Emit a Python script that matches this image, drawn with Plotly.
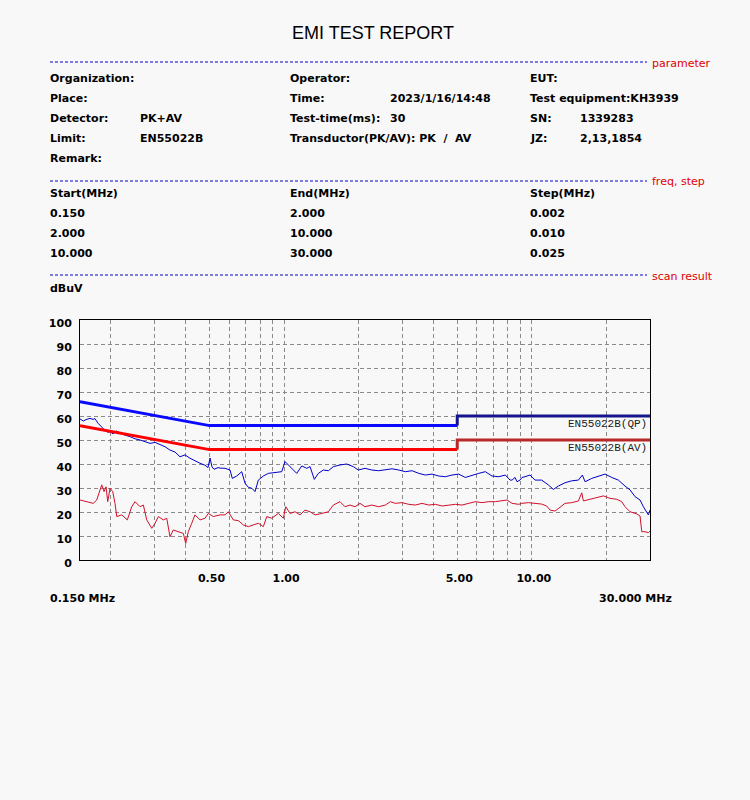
import plotly.graph_objects as go

# ---------------- data ----------------
pk_freq = [0.150, 0.1547, 0.1586, 0.1646, 0.1693, 0.1724, 0.1773, 0.1807, 0.1858, 0.1893,
           0.1947, 0.1983, 0.2039, 0.2097, 0.2176, 0.2280, 0.2388, 0.2502, 0.2621, 0.2746,
           0.2877, 0.3014, 0.3156, 0.3306, 0.3462, 0.3627, 0.3800, 0.3981, 0.4170, 0.4369,
           0.4577, 0.4795, 0.4930, 0.5023, 0.5117, 0.5213, 0.5411, 0.5512, 0.5774, 0.6050,
           0.618, 0.644, 0.6745, 0.6955, 0.7172, 0.7403, 0.7633, 0.7871, 0.8246, 0.8638,
           0.9192, 0.9782, 1.0087, 1.0402, 1.0737, 1.1248, 1.1783, 1.2344, 1.2727, 1.3246,
           1.3749, 1.4404, 1.5089, 1.5805, 1.6819, 1.790, 1.903, 1.994, 2.122, 2.258,
           2.410, 2.563, 2.727, 2.903, 3.086, 3.285, 3.496, 3.717, 3.955, 4.210,
           4.476, 4.763, 5.069, 5.390, 5.737, 6.106, 6.493, 6.907, 7.352, 7.818,
           8.168, 8.322, 8.557, 8.718, 8.961, 9.129, 9.388, 9.835, 10.30, 10.96,
           11.66, 12.22, 12.80, 13.62, 14.50, 15.42, 16.00, 16.41, 17.45, 18.56,
           19.76, 21.02, 22.35, 23.79, 24.92, 26.11, 27.35, 28.21, 29.11, 29.55, 30.0]
pk_level = [58.8, 57.9, 58.5, 59.0, 58.6, 58.9, 57.0, 56.0, 54.5, 54.0,
            53.2, 53.5, 52.5, 53.8, 53.0, 52.0, 51.4, 50.5, 50.0, 49.3,
            48.6, 49.0, 48.0, 47.2, 45.8, 45.0, 43.0, 43.8, 42.4, 41.2,
            40.3, 39.5, 38.5, 42.5, 38.8, 37.8, 38.5, 38.3, 38.2, 37.5,
            34.0, 35.0, 36.8, 32.0, 30.3, 29.9, 28.5, 33.3, 35.0, 36.1,
            36.4, 36.8, 41.0, 39.6, 38.2, 36.1, 39.2, 38.2, 38.9, 33.6,
            36.1, 37.5, 37.2, 38.9, 39.6, 40.0, 38.9, 37.5, 38.2, 37.5,
            37.2, 37.5, 38.0, 37.5, 36.8, 37.2, 36.1, 35.4, 35.8, 35.0,
            34.7, 35.4, 35.8, 34.4, 35.4, 36.1, 36.8, 35.0, 34.7, 35.4,
            33.3, 33.3, 34.4, 32.6, 33.3, 34.4, 34.7, 35.4, 33.3, 33.3,
            31.3, 29.4, 30.8, 32.2, 33.0, 33.3, 35.4, 32.6, 34.0, 35.0,
            35.8, 34.4, 33.3, 30.8, 29.2, 26.4, 25.0, 22.2, 20.1, 18.8, 20.8]

av_freq = [0.150, 0.1596, 0.1698, 0.1752, 0.1807, 0.1836, 0.1876, 0.1911, 0.1941, 0.1983,
           0.2033, 0.2077, 0.2111, 0.2211, 0.2329, 0.2426, 0.2502, 0.2621, 0.2703, 0.2790,
           0.2923, 0.3014, 0.3108, 0.3255, 0.3359, 0.3462, 0.3570, 0.3740, 0.3919, 0.4007,
           0.4105, 0.4237, 0.4369, 0.4577, 0.4795, 0.4944, 0.5180, 0.5512, 0.5774, 0.5955,
           0.6239, 0.6536, 0.6847, 0.7172, 0.7514, 0.7871, 0.8246, 0.8510, 0.8914, 0.9479,
           0.9930, 1.0155, 1.0568, 1.1071, 1.1598, 1.2150, 1.2727, 1.3333, 1.4190, 1.5089,
           1.5805, 1.6819, 1.7620, 1.8455, 1.9333, 2.0253, 2.122, 2.258, 2.410, 2.563,
           2.684, 2.812, 2.993, 3.185, 3.387, 3.604, 3.836, 4.079, 4.341, 4.620,
           4.912, 5.227, 5.563, 5.916, 6.296, 6.701, 7.123, 7.581, 7.942, 8.322,
           8.857, 9.104, 9.681, 10.30, 10.96, 11.48, 11.85, 12.41, 13.00, 13.62,
           14.50, 15.42, 15.91, 16.15, 17.18, 18.28, 19.45, 20.69, 22.02, 23.07,
           23.79, 24.92, 26.52, 27.35, 27.79, 28.65, 29.55, 30.0]
av_level = [25.0, 24.3, 23.6, 25.0, 29.2, 31.3, 28.5, 30.5, 24.3, 29.9,
            28.5, 23.6, 18.1, 18.8, 16.7, 22.2, 24.3, 22.2, 22.9, 16.7,
            13.2, 15.3, 18.1, 16.7, 17.4, 9.7, 12.5, 11.8, 11.1, 6.9,
            11.8, 15.3, 18.8, 16.7, 17.4, 19.4, 18.1, 18.8, 18.8, 20.1,
            16.7, 16.4, 14.6, 13.9, 14.6, 15.3, 13.9, 18.1, 17.4, 19.4,
            17.4, 22.2, 19.4, 20.1, 18.8, 20.8, 20.1, 18.8, 19.4, 20.1,
            22.9, 24.3, 22.2, 22.9, 22.2, 23.6, 22.2, 22.9, 22.2, 22.9,
            24.3, 23.6, 23.9, 23.2, 22.9, 23.6, 22.9, 23.2, 22.5, 22.7,
            23.2, 22.9, 23.6, 24.3, 23.9, 24.3, 24.3, 24.7, 25.0, 23.6,
            23.2, 23.6, 23.9, 23.6, 23.3, 22.5, 20.8, 20.4, 22.2, 23.6,
            23.9, 24.6, 28.0, 24.6, 25.3, 26.1, 26.7, 25.7, 25.3, 24.3,
            22.2, 20.1, 19.2, 18.3, 11.8, 11.8, 11.4, 12.0]

lim_freq_low = [0.15, 0.5, 5.0]
qp_low = [66, 56, 56]
avl_low = [56, 46, 46]
lim_freq_high = [5.0, 5.0, 30.0]
qp_high = [56, 60, 60]
avl_high = [46, 50, 50]

grid_freqs = [0.2, 0.3, 0.4, 0.5, 0.6, 0.7, 0.8, 0.9, 1, 2, 3, 4, 5, 6, 7, 8, 9, 10, 20]
grid_text = ["", "", "", "0.50", "", "", "", "", "1.00", "", "", "", "5.00", "", "", "", "", "10.00", ""]

header_rows = [
    ["Organization:", "", "Operator:", "", "EUT:", ""],
    ["Place:", "", "Time:", "2023/1/16/14:48", "Test equipment:KH3939", ""],
    ["Detector:", "PK+AV", "Test-time(ms):", "30", "SN:", "1339283"],
    ["Limit:", "EN55022B", "Transductor(PK/AV): PK  /  AV", "", "JZ:", "2,13,1854"],
    ["Remark:", "", "", "", "", ""],
]
freq_rows = [
    ["Start(MHz)", "End(MHz)", "Step(MHz)"],
    ["0.150", "2.000", "0.002"],
    ["2.000", "10.000", "0.010"],
    ["10.000", "30.000", "0.025"],
]

# ---------------- layout helpers ----------------
BG = "#f8f8f8"
L, R, T, B = 80, 650, 320, 560


def px(x):
    return (x - L) / (R - L)


def py(y):
    return (B - y) / (B - T)


FONT = "DejaVu Sans"
fig = go.Figure()

fig.add_trace(go.Scatter(x=pk_freq, y=pk_level, mode="lines",
                         line=dict(color="#0000c8", width=1), showlegend=False))
fig.add_trace(go.Scatter(x=av_freq, y=av_level, mode="lines",
                         line=dict(color="#d0102a", width=1), showlegend=False))
fig.add_trace(go.Scatter(x=lim_freq_low, y=qp_low, mode="lines",
                         line=dict(color="#0a0aff", width=3), showlegend=False))
fig.add_trace(go.Scatter(x=lim_freq_high, y=qp_high, mode="lines",
                         line=dict(color="#14148c", width=3), showlegend=False))
fig.add_trace(go.Scatter(x=lim_freq_low, y=avl_low, mode="lines",
                         line=dict(color="#ff0000", width=3), showlegend=False))
fig.add_trace(go.Scatter(x=lim_freq_high, y=avl_high, mode="lines",
                         line=dict(color="#b82828", width=3), showlegend=False))

ann = []


def text(x, y, s, size=11, color="#000000", bold=True, anchor="left", family=FONT):
    if anchor == "left":
        x -= 2
    elif anchor == "right":
        x += 2
    ann.append(dict(x=px(x), y=py(y), xref="paper", yref="paper", text=s,
                    showarrow=False, xanchor=anchor, yanchor="middle",
                    font=dict(family=family, size=size, color=color,
                              weight="bold" if bold else "normal")))


text(373, 33, "EMI TEST REPORT", size=18, bold=False, anchor="center", family="Liberation Sans")

cols = [50, 140, 290, 390, 530, 580]
for i, row in enumerate(header_rows):
    for j, s in enumerate(row):
        if s:
            text(cols[j], 78 + 20 * i, s)

fcols = [50, 290, 530]
for i, row in enumerate(freq_rows):
    for j, s in enumerate(row):
        text(fcols[j], 193 + 20 * i, s)

text(50, 288, "dBuV")
text(50, 598, "0.150 MHz")
text(672, 598, "30.000 MHz", anchor="right")

for yy, s in [(63, "parameter"), (181, "freq, step"), (276, "scan result")]:
    text(652, yy, s, size=11, color="#e00000", bold=False)

text(647, 424, "EN55022B(QP)", size=11, color="#202020", bold=False, anchor="right",
     family="Liberation Mono")
text(647, 448, "EN55022B(AV)", size=11, color="#202020", bold=False, anchor="right",
     family="Liberation Mono")

shapes = []
for yy in [62, 181, 275]:
    shapes.append(dict(type="line", xref="paper", yref="paper", x0=px(50), x1=px(647),
                       y0=py(yy), y1=py(yy), line=dict(color="#0000d0", width=1, dash="3px,2px")))

fig.update_layout(
    width=750, height=800,
    margin=dict(l=L, r=750 - R, t=T, b=800 - B),
    paper_bgcolor=BG, plot_bgcolor=BG,
    annotations=ann, shapes=shapes,
    xaxis=dict(type="log", range=[-0.823909, 1.477121], tickvals=grid_freqs,
               ticktext=grid_text, showgrid=True, gridcolor="#8a8a8a", griddash="4px,3px",
               gridwidth=1, showline=True, linecolor="#000000", linewidth=1, mirror=True,
               ticks="outside", ticklen=8, tickcolor=BG, zeroline=False, ticklabelshift=2,
               tickfont=dict(family=FONT, size=11, color="#000000", weight="bold")),
    yaxis=dict(range=[0, 100], dtick=10, showgrid=True, gridcolor="#8a8a8a", griddash="4px,3px",
               gridwidth=1, showline=True, linecolor="#000000", linewidth=1, mirror=True,
               zeroline=False, ticks="outside", ticklen=5, tickcolor=BG, ticklabelshift=3,
               tickfont=dict(family=FONT, size=11, color="#000000", weight="bold")),
)

fig.write_html("out.html", config={"displayModeBar": False},
               post_script="document.body.style.margin='0';document.body.style.background='" + BG + "';")
